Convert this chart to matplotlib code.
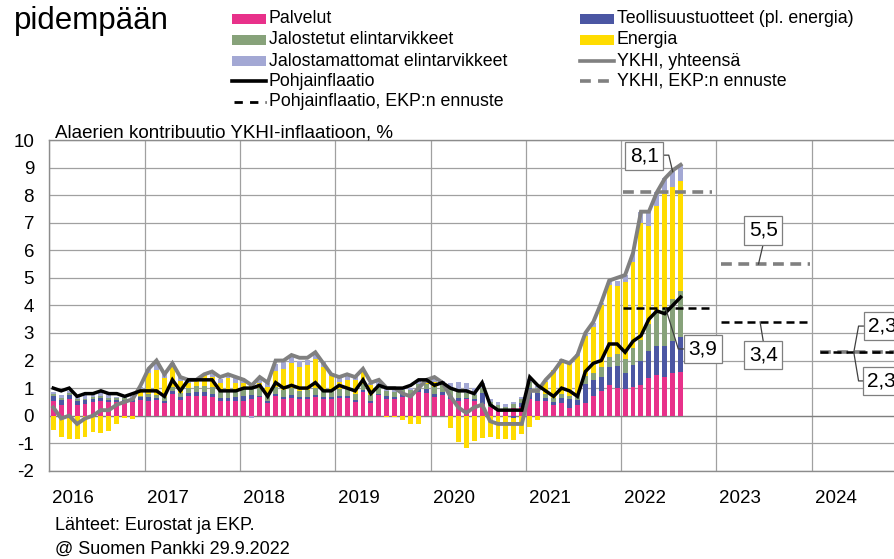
import numpy as np
import matplotlib
matplotlib.use("Agg")
import matplotlib.pyplot as plt
from matplotlib.patches import Rectangle
from matplotlib.lines import Line2D

plt.rcParams['font.family'] = ['Liberation Sans', 'DejaVu Sans']

# ---------------- data (monthly, Jan 2016 - Aug 2022) ----------------
years = [2016, 2017, 2018, 2019, 2020, 2021, 2022, 2023, 2024]

services = [
    0.53, 0.40, 0.62, 0.40, 0.44, 0.49, 0.53, 0.49, 0.49, 0.49, 0.49, 0.58,
    0.54, 0.58, 0.45, 0.80, 0.58, 0.72, 0.72, 0.72, 0.67, 0.54, 0.54, 0.54,
    0.54, 0.59, 0.68, 0.45, 0.72, 0.59, 0.63, 0.59, 0.59, 0.68, 0.59, 0.59,
    0.64, 0.64, 0.51, 0.87, 0.46, 0.74, 0.60, 0.60, 0.69, 0.69, 0.87, 0.83,
    0.69, 0.74, 0.60, 0.55, 0.60, 0.55, 0.41, 0.32, 0.23, 0.18, 0.28, 0.32,
    0.59, 0.55, 0.55, 0.38, 0.46, 0.29, 0.38, 0.46, 0.71, 0.88, 1.13, 1.01,
    0.96, 1.05, 1.13, 1.38, 1.46, 1.42, 1.55, 1.59]

industrial = [
    0.18, 0.18, 0.13, 0.13, 0.13, 0.11, 0.11, 0.08, 0.08, 0.08, 0.08, 0.08,
    0.13, 0.05, 0.08, 0.08, 0.08, 0.11, 0.13, 0.13, 0.13, 0.11, 0.11, 0.13,
    0.18, 0.16, 0.05, 0.08, 0.08, 0.10, 0.13, 0.08, 0.10, 0.08, 0.10, 0.10,
    0.08, 0.08, 0.05, 0.05, 0.08, 0.05, 0.10, 0.08, 0.08, 0.08, 0.10, 0.13,
    0.08, 0.13, 0.13, 0.08, 0.05, 0.05, 0.42, 0.00, -0.03, -0.03, -0.08, 0.13,
    0.41, 0.27, 0.08, 0.11, 0.19, 0.32, 0.19, 0.70, 0.57, 0.54, 0.65, 0.78,
    0.59, 0.79, 0.87, 0.97, 1.08, 1.10, 1.15, 1.28]

processed_food = [
    0.07, 0.07, 0.06, 0.06, 0.05, 0.06, 0.06, 0.06, 0.06, 0.06, 0.07, 0.07,
    0.11, 0.13, 0.15, 0.17, 0.16, 0.16, 0.22, 0.24, 0.25, 0.25, 0.25, 0.25,
    0.25, 0.24, 0.26, 0.25, 0.25, 0.25, 0.25, 0.24, 0.25, 0.26, 0.23, 0.22,
    0.24, 0.24, 0.23, 0.22, 0.20, 0.20, 0.18, 0.17, 0.17, 0.16, 0.17, 0.20,
    0.27, 0.27, 0.27, 0.22, 0.18, 0.15, 0.17, 0.17, 0.15, 0.14, 0.13, 0.14,
    0.22, 0.19, 0.17, 0.16, 0.14, 0.09, 0.22, 0.28, 0.28, 0.33, 0.34, 0.43,
    0.50, 0.60, 0.75, 0.99, 1.22, 1.40, 1.54, 1.66]

energy = [
    -0.52, -0.78, -0.84, -0.84, -0.78, -0.61, -0.64, -0.54, -0.29, -0.09, -0.11, 0.25,
    0.77, 0.88, 0.70, 0.72, 0.43, 0.18, 0.21, 0.38, 0.37, 0.29, 0.45, 0.28,
    0.21, 0.20, 0.19, 0.25, 0.58, 0.76, 0.90, 0.87, 0.90, 1.02, 0.86, 0.52,
    0.26, 0.35, 0.51, 0.51, 0.37, 0.02, -0.05, -0.06, -0.17, -0.30, -0.31, 0.02,
    0.19, -0.03, -0.44, -0.95, -1.17, -0.91, -0.82, -0.76, -0.80, -0.81, -0.81, -0.68,
    -0.40, -0.16, 0.41, 0.99, 1.24, 1.20, 1.36, 1.46, 1.67, 2.25, 2.61, 2.47,
    2.80, 3.15, 4.25, 3.55, 3.86, 4.12, 4.05, 4.00]

unprocessed_food = [
    0.07, 0.10, 0.10, 0.10, 0.12, 0.14, 0.17, 0.14, 0.06, 0.05, 0.06, 0.05,
    0.15, 0.36, 0.12, 0.13, 0.15, 0.13, 0.05, 0.05, 0.10, 0.15, 0.15, 0.20,
    0.12, -0.08, 0.20, 0.17, 0.25, 0.25, 0.25, 0.20, 0.18, 0.20, 0.15, 0.10,
    0.18, 0.19, 0.10, 0.05, 0.09, 0.20, 0.17, 0.15, 0.07, 0.07, 0.17, 0.12,
    0.10, 0.10, 0.17, 0.37, 0.36, 0.25, 0.20, 0.12, 0.10, 0.12, 0.10, 0.08,
    0.10, 0.08, 0.05, 0.02, 0.03, 0.03, 0.08, 0.10, 0.13, 0.10, 0.15, 0.20,
    0.27, 0.32, 0.40, 0.49, 0.48, 0.57, 0.57, 0.56]

hicp_total = [
    0.3, -0.1, 0.0, -0.3, -0.1, 0.0, 0.2, 0.2, 0.4, 0.5, 0.6, 1.1,
    1.7, 2.0, 1.5, 1.9, 1.4, 1.3, 1.3, 1.5, 1.6, 1.4, 1.5, 1.4,
    1.3, 1.1, 1.4, 1.2, 2.0, 2.0, 2.2, 2.1, 2.1, 2.3, 1.9, 1.5,
    1.4, 1.5, 1.4, 1.7, 1.2, 1.3, 1.0, 1.0, 0.8, 0.7, 1.0, 1.3,
    1.4, 1.2, 0.7, 0.3, 0.1, 0.3, 0.4, -0.2, -0.3, -0.3, -0.3, -0.3,
    0.9, 0.9, 1.3, 1.6, 2.0, 1.9, 2.2, 3.0, 3.4, 4.1, 4.9, 5.0,
    5.1, 5.9, 7.4, 7.4, 8.1, 8.6, 8.9, 9.1]

core_inflation = [
    1.0, 0.9, 1.0, 0.7, 0.8, 0.8, 0.9, 0.8, 0.8, 0.7, 0.8, 0.9,
    0.9, 0.9, 0.7, 1.3, 0.9, 1.3, 1.3, 1.3, 1.3, 0.9, 0.9, 0.9,
    1.0, 1.0, 1.1, 0.7, 1.2, 1.0, 1.1, 1.0, 1.0, 1.2, 0.9, 0.9,
    1.1, 1.0, 0.9, 1.3, 0.8, 1.1, 1.0, 1.0, 1.0, 1.1, 1.3, 1.3,
    1.1, 1.2, 1.0, 0.9, 0.9, 0.8, 1.2, 0.4, 0.2, 0.2, 0.2, 0.2,
    1.4, 1.1, 0.9, 0.7, 1.0, 0.9, 0.7, 1.6, 1.9, 2.0, 2.6, 2.6,
    2.3, 2.7, 2.9, 3.5, 3.8, 3.7, 4.0, 4.3]

forecast_years = [2022, 2023, 2024]
hicp_forecast = [8.1, 5.5, 2.3]
core_forecast = [3.9, 3.4, 2.3]

legend_labels = ["Palvelut", "Jalostetut elintarvikkeet", "Jalostamattomat elintarvikkeet",
                 "Pohjainflaatio", "Pohjainflaatio, EKP:n ennuste",
                 "Teollisuustuotteet (pl. energia)", "Energia", "YKHI, yhteensä",
                 "YKHI, EKP:n ennuste"]

# ---------------- styles ----------------
C_SERV = "#e8318a"
C_IND = "#4b56a3"
C_PROC = "#87a27a"
C_ENER = "#ffdc00"
C_UNPR = "#a3a8d4"
C_GRAY = "#808080"
GRID = "#a0a0a0"

W, H = 894, 559
fig = plt.figure(figsize=(W / 100, H / 100), dpi=100)

# plot area in pixels
px_left, px_top, px_bottom = 49.3, 140.0, 470.8
px_per_year = 95.3
n_years = len(years)
ax = fig.add_axes([px_left / W, (H - px_bottom) / H,
                   px_per_year * n_years / W, (px_bottom - px_top) / H])

n = len(services)
x = np.arange(n) + 0.5
bw = 0.62

series = [(services, C_SERV), (industrial, C_IND), (processed_food, C_PROC),
          (energy, C_ENER), (unprocessed_food, C_UNPR)]
pos_base = np.zeros(n)
neg_base = np.zeros(n)
for vals, col in series:
    v = np.array(vals, dtype=float)
    bottom = np.where(v >= 0, pos_base, neg_base)
    ax.bar(x, v, bottom=bottom, width=bw, color=col, linewidth=0, zorder=2)
    pos_base = pos_base + np.where(v >= 0, v, 0)
    neg_base = neg_base + np.where(v < 0, v, 0)

ax.plot(x, hicp_total, color=C_GRAY, lw=2.8, zorder=4, solid_joinstyle='miter')
ax.plot(x, core_inflation, color="black", lw=2.5, zorder=5, solid_joinstyle='miter')

# forecasts: horizontal dashed segments for each year
for yr, hv, cv in zip(forecast_years, hicp_forecast, core_forecast):
    x0 = (yr - years[0]) * 12 + 0.2
    if yr == 2022:
        ax.plot([x0, x0 + 11.2], [hv, hv], color=C_GRAY, lw=2.6, dashes=(3.0, 1.8), zorder=6)
        ax.plot([x0, x0 + 10.9], [cv, cv], color="black", lw=1.8, dashes=(3.2, 2.0), zorder=6)
    elif yr == 2023:
        ax.plot([x0 + 0.4, x0 + 11.6], [hv, hv], color=C_GRAY, lw=2.6, dashes=(3.0, 1.8), zorder=6)
        ax.plot([x0 + 0.4, x0 + 11.5], [cv, cv], color="black", lw=1.8, dashes=(3.2, 2.0), zorder=6)
    else:
        ax.plot([x0 + 0.8, x0 + 12.5], [hv, hv], color=C_GRAY, lw=2.6, dashes=(3.0, 1.8), zorder=6)
        ax.plot([x0 + 0.8, x0 + 12.5], [cv, cv], color="black", lw=1.8, dashes=(3.2, 2.0), zorder=6)

ax.set_xlim(0, 12 * n_years)
ax.set_ylim(-2, 10)
ax.set_yticks(range(-2, 11))
ax.set_yticklabels([str(v) for v in range(-2, 11)])
ax.set_xticks([12 * i for i in range(n_years + 1)])
ax.set_xticklabels([])
ax.set_xticks([12 * i + 3 for i in range(n_years)], minor=True)
ax.set_xticklabels([str(y) for y in years], minor=True)
ax.tick_params(axis='y', length=0, pad=11, labelsize=13.5)
ax.tick_params(axis='x', which='both', length=0, pad=14, labelsize=13.5)
ax.grid(True, which='major', color=GRID, lw=0.9)
ax.set_axisbelow(True)
for s in ax.spines.values():
    s.set_color("#8c8c8c")
    s.set_linewidth(1.0)
ax.axhline(0, color="#7f7f7f", lw=0.9, zorder=1)

# data labels with leader lines (positions in data coords)
def dl(txt, xc, yc, ha='center'):
    ax.text(xc, yc, txt, ha=ha, va='center', fontsize=15, zorder=8, clip_on=False,
            bbox=dict(boxstyle='square,pad=0.22', fc='white', ec='#7f7f7f', lw=0.9))

def leader(xs, ys):
    ax.plot(xs, ys, color='#404040', lw=0.9, zorder=7, clip_on=False)

dl("8,1", 74.9, 9.42)
leader([77.2, 78.0, 78.5], [9.45, 9.45, 8.85])
dl("5,5", 89.9, 6.72)
leader([89.9, 89.3], [6.23, 5.5])
dl("3,9", 82.3, 2.42)
leader([79.9, 79.2, 77.6], [2.42, 2.42, 3.9])
dl("3,4", 89.9, 2.20)
leader([89.9, 89.5], [2.70, 3.4])
dl("2,3", 103.1, 3.25, ha='left')
leader([102.5, 101.9, 101.3], [3.25, 3.25, 2.3])
dl("2,3", 103.0, 1.26, ha='left')
leader([102.4, 101.9, 101.3], [1.26, 1.26, 2.3])

# ---------------- overlay (pixel coordinates) for texts and legend ----------------
ov = fig.add_axes([0, 0, 1, 1], zorder=10)
ov.set_xlim(0, W)
ov.set_ylim(H, 0)
ov.axis('off')

ov.text(14, 29, "pidempään", fontsize=22.5, ha='left', va='baseline')
ov.text(55, 137, "Alaerien kontribuutio YKHI-inflaatioon, %", fontsize=13.5, ha='left', va='baseline')
ov.text(55, 530, "Lähteet: Eurostat ja EKP.", fontsize=13, ha='left', va='baseline')
ov.text(55, 554, "@ Suomen Pankki 29.9.2022", fontsize=13, ha='left', va='baseline')

leg_fs = 12.8
col1_x, col2_x = 232, 580
rows = [18.5, 40, 61, 81, 102]
kinds = [('patch', C_SERV), ('patch', C_PROC), ('patch', C_UNPR),
         ('line', 'black'), ('dash', 'black'),
         ('patch', C_IND), ('patch', C_ENER), ('line', C_GRAY), ('dash', C_GRAY)]
positions = [(col1_x, rows[i]) for i in range(5)] + [(col2_x, rows[i]) for i in range(4)]
for (kind, col), (lx, ly), lab in zip(kinds, positions, legend_labels):
    if kind == 'patch':
        ov.add_patch(Rectangle((lx, ly - 5), 34, 10, color=col, lw=0))
    elif kind == 'line':
        ov.add_line(Line2D([lx, lx + 34], [ly, ly], color=col, lw=2.6))
    else:
        if col == 'black':
            ov.add_line(Line2D([lx + 2, lx + 34], [ly, ly], color=col, lw=2.0, dashes=(3.0, 2.6)))
        else:
            ov.add_line(Line2D([lx, lx + 34], [ly, ly], color=col, lw=2.6, dashes=(3.0, 2.0)))
    ov.text(lx + 37, ly, lab, fontsize=leg_fs, ha='left', va='center')

fig.savefig("out.png", dpi=100)
